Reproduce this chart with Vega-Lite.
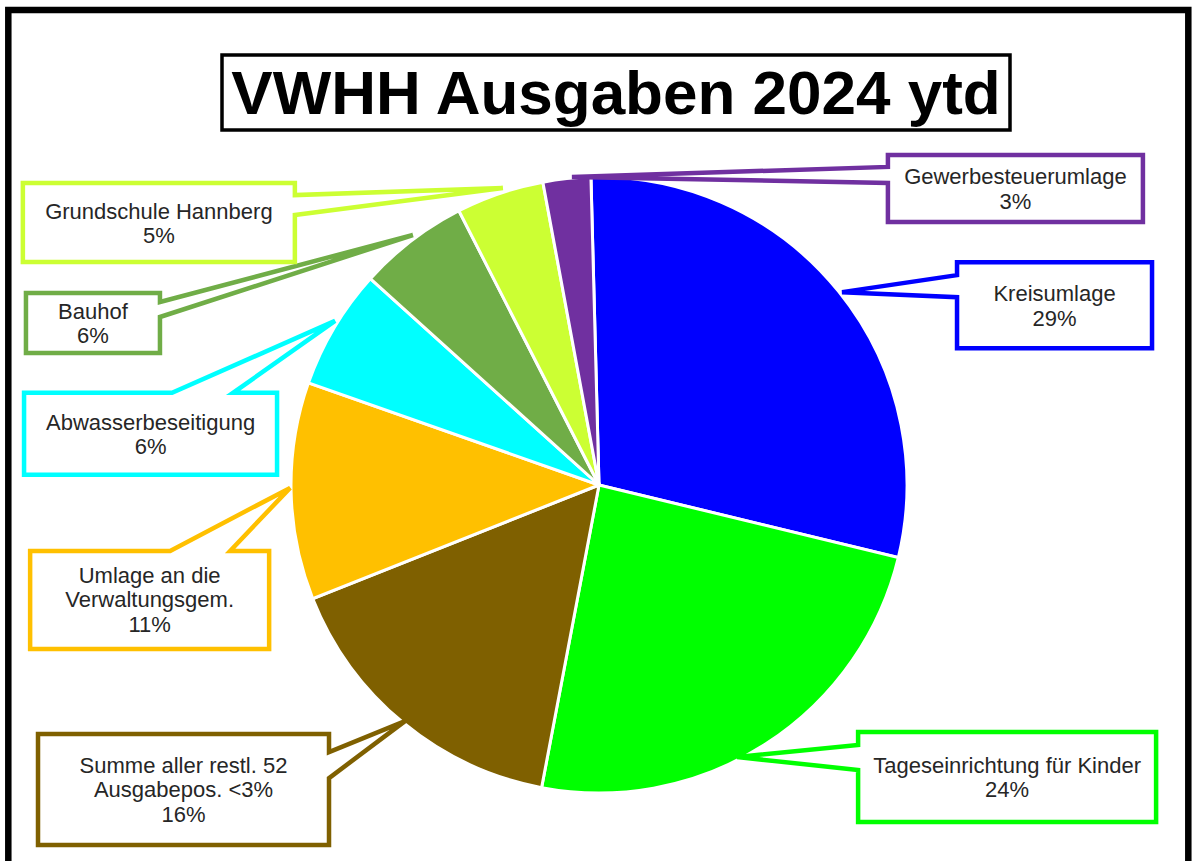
{
  "$schema": "https://vega.github.io/schema/vega-lite/v6.json",
  "width": 1192,
  "height": 861,
  "padding": 0,
  "autosize": {"type": "none"},
  "background": "white",
  "config": {"view": {"stroke": null}},
  "data": {
    "values": [
      {"seq": 1, "category": "Kreisumlage", "value": 29.2, "lines": 2, "label": "Kreisumlage\n29%", "label_x": 1.479, "label_y": 0.584},
      {"seq": 2, "category": "Tageseinrichtung für Kinder", "value": 24.2, "lines": 2, "label": "Tageseinrichtung für Kinder\n24%", "label_x": 1.325, "label_y": -0.948},
      {"seq": 3, "category": "Summe aller restl. 52 Ausgabepos. <3%", "value": 16.0, "lines": 3, "label": "Summe aller restl. 52\nAusgabepos. <3%\n16%", "label_x": -1.349, "label_y": -0.989},
      {"seq": 4, "category": "Umlage an die Verwaltungsgem.", "value": 11.4, "lines": 3, "label": "Umlage an die\nVerwaltungsgem.\n11%", "label_x": -1.459, "label_y": -0.373},
      {"seq": 5, "category": "Abwasserbeseitigung", "value": 6.3, "lines": 2, "label": "Abwasserbeseitigung\n6%", "label_x": -1.456, "label_y": 0.166},
      {"seq": 6, "category": "Bauhof", "value": 5.8, "lines": 2, "label": "Bauhof\n6%", "label_x": -1.643, "label_y": 0.526},
      {"seq": 7, "category": "Grundschule Hannberg", "value": 4.6, "lines": 2, "label": "Grundschule Hannberg\n5%", "label_x": -1.429, "label_y": 0.852},
      {"seq": 8, "category": "Gewerbesteuerumlage", "value": 2.5, "lines": 2, "label": "Gewerbesteuerumlage\n3%", "label_x": 1.352, "label_y": 0.963}
    ]
  },
  "layer": [
    {
      "data": {"values": [{}]},
      "mark": {"type": "point", "shape": "M-590.7,386V-475H589.3V386", "filled": false, "stroke": "black", "strokeWidth": 6.5, "size": 4, "opacity": 1},
      "encoding": {
        "x": {"datum": 0, "type": "quantitative", "scale": {"domain": [-1.94481, 1.92532], "nice": false, "zero": false}, "axis": null},
        "y": {"datum": 0, "type": "quantitative", "scale": {"domain": [-1.22078, 1.57468], "nice": false, "zero": false}, "axis": null}
      }
    },
    {
      "mark": {"type": "arc", "radius": 308, "stroke": "white", "strokeWidth": 3},
      "encoding": {
        "x": {"datum": 0, "type": "quantitative", "scale": {"domain": [-1.94481, 1.92532], "nice": false, "zero": false}, "axis": null},
        "y": {"datum": 0, "type": "quantitative", "scale": {"domain": [-1.22078, 1.57468], "nice": false, "zero": false}, "axis": null},
        "theta": {"field": "value", "type": "quantitative", "stack": true, "scale": {"range": [-0.02618, 6.25701]}},
        "order": {"field": "seq", "type": "quantitative", "sort": "ascending"},
        "color": {
          "field": "category", "type": "nominal", "legend": null,
          "scale": {
            "domain": ["Kreisumlage", "Tageseinrichtung für Kinder", "Summe aller restl. 52 Ausgabepos. <3%", "Umlage an die Verwaltungsgem.", "Abwasserbeseitigung", "Bauhof", "Grundschule Hannberg", "Gewerbesteuerumlage"],
            "range": ["#0000FF", "#00FF00", "#7F6000", "#FFC000", "#00FFFF", "#70AD47", "#CCFF33", "#7030A0"]
          }
        }
      }
    },
    {
      "mark": {"type": "point", "filled": true, "fill": "white", "fillOpacity": 1, "strokeOpacity": 1, "opacity": 1, "strokeWidth": 4.5, "size": 4},
      "encoding": {
        "x": {"field": "label_x", "type": "quantitative", "scale": {"domain": [-1.94481, 1.92532], "nice": false, "zero": false}, "axis": null},
        "y": {"field": "label_y", "type": "quantitative", "scale": {"domain": [-1.22078, 1.57468], "nice": false, "zero": false}, "axis": null},
        "shape": {
          "field": "category", "type": "nominal", "legend": null,
          "scale": {
            "domain": ["Kreisumlage", "Tageseinrichtung für Kinder", "Summe aller restl. 52 Ausgabepos. <3%", "Umlage an die Verwaltungsgem.", "Abwasserbeseitigung", "Bauhof", "Grundschule Hannberg", "Gewerbesteuerumlage"],
            "range": [
              "M-97.5,-43H97.5V43H-97.5V-8L-212.5,-13L-97.5,-30Z",
              "M-149,-45H149V45H-149V-7L-270,-20L-149,-32Z",
              "M-145.5,-55.5H145.5V-37.5L221.5,-68.5L145.5,-11.5V55.5H-145.5Z",
              "M-119.5,-49H20.5L140.5,-112L80.5,-49H119.5V49H-119.5Z",
              "M-126.5,-41H21.5L184.5,-113L82.5,-41H126.5V41H-126.5Z",
              "M-67,-30H67V-21L320,-88L67,-6V30H-67Z",
              "M-136,-39.5H136V-27.5L344,-34.5L136,-7.5V39.5H-136Z",
              "M-127.5,-33.5H127.5V33.5H-127.5V-5.5L-443.5,-11.5L-127.5,-21.5Z"
            ]
          }
        },
        "stroke": {
          "field": "category", "type": "nominal", "legend": null,
          "scale": {
            "domain": ["Kreisumlage", "Tageseinrichtung für Kinder", "Summe aller restl. 52 Ausgabepos. <3%", "Umlage an die Verwaltungsgem.", "Abwasserbeseitigung", "Bauhof", "Grundschule Hannberg", "Gewerbesteuerumlage"],
            "range": ["#0000FF", "#00FF00", "#7F6000", "#FFC000", "#00FFFF", "#70AD47", "#CCFF33", "#7030A0"]
          }
        }
      }
    },
    {
      "transform": [{"filter": "datum.lines == 2"}],
      "mark": {"type": "text", "font": "Liberation Sans", "fontSize": 22, "lineBreak": "\n", "lineHeight": 24.5, "align": "center", "baseline": "middle", "dy": -11, "color": "#262626"},
      "encoding": {
        "x": {"field": "label_x", "type": "quantitative", "scale": {"domain": [-1.94481, 1.92532], "nice": false, "zero": false}, "axis": null},
        "y": {"field": "label_y", "type": "quantitative", "scale": {"domain": [-1.22078, 1.57468], "nice": false, "zero": false}, "axis": null},
        "text": {"field": "label", "type": "nominal"}
      }
    },
    {
      "transform": [{"filter": "datum.lines == 3"}],
      "mark": {"type": "text", "font": "Liberation Sans", "fontSize": 22, "lineBreak": "\n", "lineHeight": 24.5, "align": "center", "baseline": "middle", "dy": -24, "color": "#262626"},
      "encoding": {
        "x": {"field": "label_x", "type": "quantitative", "scale": {"domain": [-1.94481, 1.92532], "nice": false, "zero": false}, "axis": null},
        "y": {"field": "label_y", "type": "quantitative", "scale": {"domain": [-1.22078, 1.57468], "nice": false, "zero": false}, "axis": null},
        "text": {"field": "label", "type": "nominal"}
      }
    },
    {
      "data": {"values": [{}]},
      "mark": {"type": "point", "shape": "M-394,-37.5H394V37.5H-394Z", "filled": true, "fill": "white", "stroke": "black", "strokeWidth": 3.5, "size": 4, "opacity": 1},
      "encoding": {
        "x": {"datum": 0.0552, "type": "quantitative", "scale": {"domain": [-1.94481, 1.92532], "nice": false, "zero": false}, "axis": null},
        "y": {"datum": 1.2744, "type": "quantitative", "scale": {"domain": [-1.22078, 1.57468], "nice": false, "zero": false}, "axis": null}
      }
    },
    {
      "data": {"values": [{}]},
      "mark": {"type": "text", "font": "Liberation Sans", "fontSize": 62, "fontWeight": "bold", "align": "center", "baseline": "alphabetic", "color": "black"},
      "encoding": {
        "x": {"datum": 0.0552, "type": "quantitative", "scale": {"domain": [-1.94481, 1.92532], "nice": false, "zero": false}, "axis": null},
        "y": {"datum": 1.2045, "type": "quantitative", "scale": {"domain": [-1.22078, 1.57468], "nice": false, "zero": false}, "axis": null},
        "text": {"value": "VWHH Ausgaben 2024 ytd"}
      }
    }
  ]
}
